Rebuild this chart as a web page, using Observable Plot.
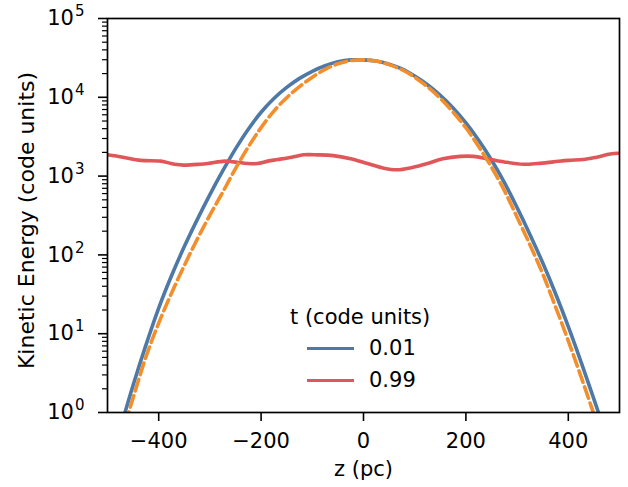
<!DOCTYPE html>
<html>
<head>
<meta charset="utf-8">
<script src="https://cdn.jsdelivr.net/npm/d3@7"></script>
<script src="https://cdn.jsdelivr.net/npm/@observablehq/plot@0.6"></script>
<style>
  html, body { margin: 0; padding: 0; background: white; }
  #wrap { position: relative; width: 628px; height: 487px; font-family: "DejaVu Sans", sans-serif; color: black; }
  .lg { position: absolute; font-size: 21px; line-height: 25px; white-space: nowrap; }
  .lgline { position: absolute; height: 3.6px; }
</style>
</head>
<body>
<div id="wrap"></div>
<script>
// ---- data ----
const seriesLabels = ["0.01", "0.99"];
const legendTitle = "t (code units)";
const colors = { blue: "#4e79a7", orange: "#f28e2b", red: "#e15759" };

// t = 0.01 (solid blue)
const zBlue = [-475,-450,-425,-400,-375,-350,-325,-300,-275,-250,-225,-200,-175,-150,-125,-100,-75,-50,-25,0,25,50,75,100,125,150,175,200,225,250,275,300,325,350,375,400,425,450,475];
const eBlue = [0.624,2.213,7.16,21.13,54.3,127.4,278.6,582,1161,2213,3936,6457,9661,13335,17378,21380,25119,28184,29854,29854,28840,26303,22909,18621,14454,10593,7328,4732,2851,1603,832,398,182,79.4,32.4,12.3,4.37,1.48,0.49];

// reference profile (dashed orange)
const zOrange = [-475,-450,-425,-400,-375,-350,-325,-300,-275,-250,-225,-200,-175,-150,-125,-100,-75,-50,-25,0,25,50,75,100,125,150,175,200,225,250,275,300,325,350,375,400,425,450,475];
const eOrange = [0.452,1.531,5.07,13.65,32.7,73.3,156.7,319.9,623.7,1245,2344,4121,6683,9886,13646,17989,22646,26607,29174,29854,28840,26002,22387,17989,13583,9705,6486,4102,2371,1300,658,300.6,134.9,57.5,22.0,8.13,2.83,0.951,0.316];

// t = 0.99 (solid red)
const zRed = [-500,-470,-435,-396,-369,-351,-320,-304,-271,-254,-226,-207,-187,-168,-140,-117,-90,-59,-25,8,40,66,95,125,155,189,215,242,275,312,340,371,400,429,455,482,498];
const eRed = [1862,1738,1585,1549,1413,1380,1413,1445,1549,1514,1445,1445,1549,1622,1738,1862,1862,1820,1660,1445,1259,1202,1288,1445,1660,1778,1778,1660,1514,1413,1445,1514,1585,1622,1738,1905,1950];

const xTicks = [-400, -200, 0, 200, 400];
const yTicks = [1, 10, 100, 1000, 10000, 100000];
const yTickExponents = ["0", "1", "2", "3", "4", "5"];
const yMinor = [];
for (const p of [1, 10, 100, 1000, 10000]) for (let k = 2; k <= 9; k++) yMinor.push(k * p);

const xLabel = "z (pc)";
const yLabel = "Kinetic Energy (code units)";

const toRows = (zs, es) => zs.map((z, i) => ({ z, e: es[i] }));
const blue = toRows(zBlue, eBlue);
const orange = toRows(zOrange, eOrange);
const red = toRows(zRed, eRed);

const fmtX = d => d < 0 ? "\u2212" + Math.abs(d) : String(d);
const fmtY = d => "10^" + yTickExponents[yTicks.indexOf(d)];

const chart = Plot.plot({
  width: 628,
  height: 487,
  marginLeft: 107,
  marginRight: 9,
  marginTop: 18,
  marginBottom: 75,
  style: { fontFamily: "DejaVu Sans, sans-serif", fontSize: "21px", color: "black", background: "white" },
  x: { domain: [-500, 500] },
  y: { type: "log", domain: [1, 1e5] },
  marks: [
    Plot.line(blue, { x: "z", y: "e", stroke: colors.blue, strokeWidth: 3.6, curve: "catmull-rom", clip: true }),
    Plot.line(red, { x: "z", y: "e", stroke: colors.red, strokeWidth: 3.6, curve: "catmull-rom", clip: true }),
    Plot.line(orange, { x: "z", y: "e", stroke: colors.orange, strokeWidth: 3.6, strokeDasharray: "12,5", curve: "catmull-rom", clip: true }),
    Plot.frame({ stroke: "black", strokeWidth: 1.7 }),
    Plot.axisX({ ticks: xTicks, tickSize: 9, tickPadding: 12, tickFormat: fmtX, label: null, strokeWidth: 1.6 }),
    Plot.axisY({ ticks: yTicks, tickSize: 9, tickPadding: 14, tickFormat: fmtY, label: null, strokeWidth: 1.6 }),
    Plot.axisY({ ticks: yMinor, tickSize: 5, text: null, label: null, strokeWidth: 1.2 }),
    Plot.text([xLabel], { frameAnchor: "bottom", dy: 57, lineAnchor: "middle", textAnchor: "middle", fontSize: 21 }),
    Plot.text([yLabel], { frameAnchor: "left", dx: -81, dy: 5, rotate: -90, textAnchor: "middle", lineAnchor: "middle", fontSize: 22 })
  ]
});

// render y tick labels as 10 with a raised exponent
chart.querySelectorAll('g[aria-label="y-axis tick label"] text').forEach(t => {
  const s = t.textContent;
  if (!s.startsWith("10^")) return;
  const exp = s.slice(3);
  t.textContent = "10";
  const sup = document.createElementNS("http://www.w3.org/2000/svg", "tspan");
  sup.setAttribute("font-size", "15");
  sup.setAttribute("dy", "-9");
  sup.setAttribute("dx", "1");
  sup.textContent = exp;
  t.appendChild(sup);
});

const wrap = document.getElementById("wrap");
wrap.appendChild(chart);

// legend overlay
function addText(txt, left, top) {
  const d = document.createElement("div");
  d.className = "lg";
  d.textContent = txt;
  d.style.left = left + "px";
  d.style.top = top + "px";
  wrap.appendChild(d);
}
function addLine(color, left, cy, w) {
  const d = document.createElement("div");
  d.className = "lgline";
  d.style.background = color;
  d.style.left = left + "px";
  d.style.top = (cy - 1.8) + "px";
  d.style.width = w + "px";
  wrap.appendChild(d);
}
addText(legendTitle, 290, 305);
addLine(colors.blue, 307, 348.3, 47);
addText(seriesLabels[0], 369, 336);
addLine(colors.red, 307, 380.5, 47);
addText(seriesLabels[1], 369, 368);
</script>
</body>
</html>
